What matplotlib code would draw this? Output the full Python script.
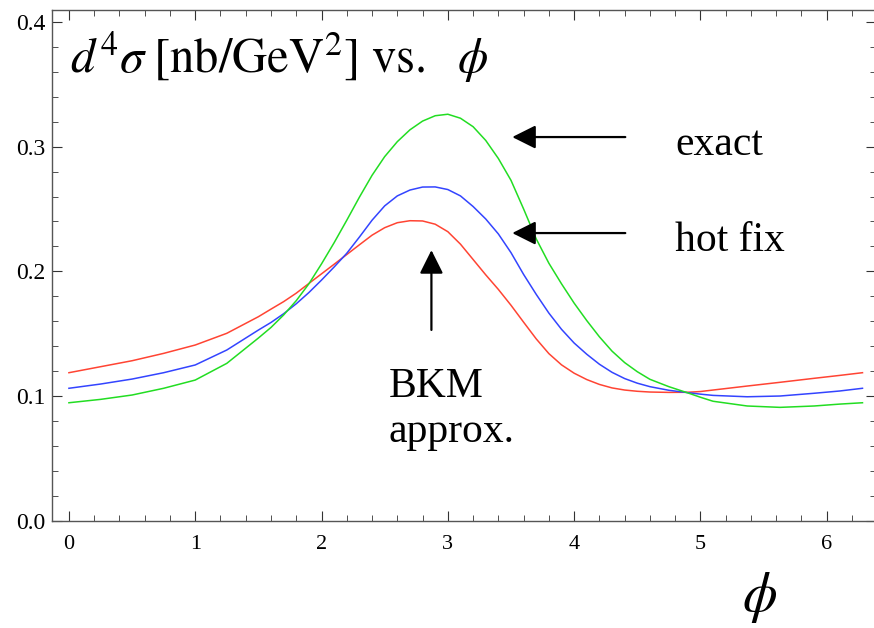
import matplotlib
matplotlib.use("Agg")
import matplotlib.pyplot as plt
from matplotlib.ticker import MultipleLocator

plt.rcParams['font.family'] = ['Liberation Serif', 'DejaVu Serif']
plt.rcParams['mathtext.fontset'] = 'stix'

# values (phi in rad, cross section in nb/GeV^2)
phi = [0, 0.25, 0.5, 0.75, 1.0, 1.25,
       1.5, 1.6, 1.7, 1.8, 1.9, 2.0, 2.1, 2.2, 2.3, 2.4, 2.5, 2.6, 2.7, 2.8,
       2.9, 3.0, 3.1, 3.2, 3.3, 3.4, 3.5, 3.6, 3.7, 3.8, 3.9, 4.0, 4.1, 4.2,
       4.3, 4.4, 4.5, 4.6,
       4.75, 4.9, 5.0, 5.1, 5.37, 5.63, 5.9, 6.1, 6.283]

bkm = [0.1187, 0.1235, 0.1283, 0.1342, 0.1409, 0.1503,
       0.1636, 0.1697, 0.1757, 0.1825, 0.1903, 0.1980, 0.2057, 0.2135, 0.2213,
       0.2290, 0.2350, 0.2390, 0.2406, 0.2404, 0.2378, 0.2318, 0.2218, 0.2095,
       0.1972, 0.1855, 0.1728, 0.1592, 0.1458, 0.1340, 0.1250, 0.1183, 0.1132,
       0.1093, 0.1065, 0.1048, 0.1038, 0.1032,
       0.1029, 0.1030, 0.1036, 0.1048, 0.1080, 0.1110, 0.1142, 0.1165, 0.1187]

hotfix = [0.1062, 0.1096, 0.1136, 0.1187, 0.1249, 0.1369,
          0.1529, 0.1590, 0.1660, 0.1740, 0.1830, 0.1930, 0.2035, 0.2145, 0.2275,
          0.2410, 0.2525, 0.2605, 0.2652, 0.2676, 0.2677, 0.2656, 0.2605, 0.2520,
          0.2420, 0.2300, 0.2150, 0.1975, 0.1815, 0.1665, 0.1535, 0.1425, 0.1335,
          0.1255, 0.1190, 0.1140, 0.1103, 0.1075,
          0.1046, 0.1027, 0.1015, 0.1005, 0.0994, 0.1000, 0.1022, 0.1040, 0.1062]

exact = [0.0946, 0.0973, 0.1008, 0.1062, 0.1128, 0.1262,
         0.1465, 0.1550, 0.1650, 0.1765, 0.1900, 0.2060, 0.2230, 0.2410, 0.2595,
         0.2770, 0.2920, 0.3040, 0.3135, 0.3205, 0.3248, 0.3260, 0.3228, 0.3160,
         0.3050, 0.2905, 0.2730, 0.2500, 0.2260, 0.2065, 0.1900, 0.1745, 0.1605,
         0.1475, 0.1360, 0.1268, 0.1195, 0.1134,
         0.1075, 0.1025, 0.0990, 0.0958, 0.0920, 0.0909, 0.0920, 0.0935, 0.0946]

fig = plt.figure(figsize=(8.74, 6.28), dpi=100)
ax = fig.add_axes([52/874, 1 - 520.7/628, 824/874, 510.7/628])

ax.plot(phi, bkm, color='#ff4433', lw=1.1)
ax.plot(phi, hotfix, color='#3344ff', lw=1.1)
ax.plot(phi, exact, color='#22dd22', lw=1.1)

ax.set_xlim(-0.134, 6.39)
ax.set_ylim(0, 0.4096)

# Mathematica-like frame: ticks inside on all four sides
ax.xaxis.set_major_locator(MultipleLocator(1))
ax.xaxis.set_minor_locator(MultipleLocator(0.2))
ax.yaxis.set_major_locator(MultipleLocator(0.1))
ax.yaxis.set_minor_locator(MultipleLocator(0.02))
ax.yaxis.set_major_formatter(plt.FuncFormatter(lambda v, p: '%.1f' % v))
ax.tick_params(which='both', direction='in', top=True, right=True,
               color='#333333')
ax.tick_params(which='major', length=7, width=0.8)
ax.tick_params(which='minor', length=4.5, width=0.6)
ax.tick_params(axis='x', pad=10, labelsize=16)
ax.tick_params(axis='y', pad=5, labelsize=17)
for s in ax.spines.values():
    s.set_color('#555555')
    s.set_linewidth(1.0)

# title inside the frame
ax.text(0.01, 0.359, r'$d^4\sigma\;[\mathrm{nb/GeV}^2]\ \mathrm{vs.}\ \ \phi$',
        fontsize=35, va='baseline', ha='left')

# labels with arrows
arrow = dict(arrowstyle='-|>,head_length=0.72,head_width=0.36', color='black',
             lw=1.6, mutation_scale=20, shrinkA=0, shrinkB=0)
ax.annotate('', xy=(3.51, 0.3077), xytext=(4.405, 0.3077), arrowprops=arrow)
ax.annotate('', xy=(3.51, 0.2307), xytext=(4.405, 0.2307), arrowprops=arrow)
ax.annotate('', xy=(2.87, 0.217), xytext=(2.87, 0.153), arrowprops=arrow)

ax.text(4.80, 0.2933, 'exact', fontsize=30, va='baseline')
ax.text(4.80, 0.2165, 'hot fix', fontsize=30, va='baseline')
ax.text(2.53, 0.0994, 'BKM', fontsize=30, va='baseline')
ax.text(2.53, 0.0631, 'approx.', fontsize=30, va='baseline')

ax.set_xlabel(r'$\phi$', fontsize=40)
ax.xaxis.set_label_coords(0.859, -0.151)
ax.xaxis.label.set_va('center')

fig.savefig('out.png', dpi=100)
